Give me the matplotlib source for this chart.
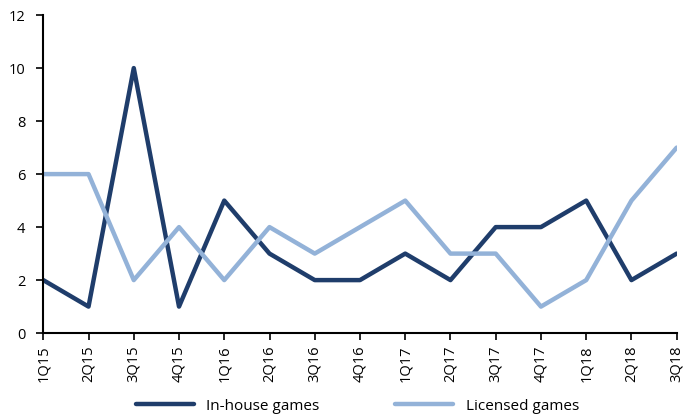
import matplotlib
matplotlib.use('Agg')
from matplotlib import pyplot as plt

quarters = ['1Q15', '2Q15', '3Q15', '4Q15', '1Q16', '2Q16', '3Q16', '4Q16',
            '1Q17', '2Q17', '3Q17', '4Q17', '1Q18', '2Q18', '3Q18']
in_house = [2, 1, 10, 1, 5, 3, 2, 2, 3, 2, 4, 4, 5, 2, 3]
licensed = [6, 6, 2, 4, 2, 4, 3, 4, 5, 3, 3, 1, 2, 5, 7]

plt.rcParams['font.family'] = ['Open Sans', 'DejaVu Sans']

fig = plt.figure(figsize=(6.87, 4.19), dpi=100)
ax = fig.add_axes([0.063, 0.205, 0.922, 0.759])

xs = list(range(len(quarters)))
ax.plot(xs, in_house, color='#1f3d6b', lw=3.2, solid_joinstyle='round',
        solid_capstyle='round', label='In-house games')
ax.plot(xs, licensed, color='#93b2d8', lw=3.2, solid_joinstyle='round',
        solid_capstyle='round', label='Licensed games')

ax.set_xlim(0, len(quarters) - 1)
ax.set_ylim(0, 12)
ax.set_yticks(range(0, 13, 2))
ax.set_xticks(xs)
ax.set_xticklabels(quarters, rotation=90)
ax.tick_params(direction='out', length=5, width=1.2, labelsize=10.5, colors='black')
ax.tick_params(axis='y', pad=8)
ax.tick_params(axis='x', pad=4)

for s in ['top', 'right']:
    ax.spines[s].set_visible(False)
for s in ['left', 'bottom']:
    ax.spines[s].set_linewidth(1.5)

fig.legend(loc='lower center', ncol=2, frameon=False, fontsize=11,
           handlelength=3.8, columnspacing=5, bbox_to_anchor=(0.52, -0.02))

fig.savefig('out.png', dpi=100)
